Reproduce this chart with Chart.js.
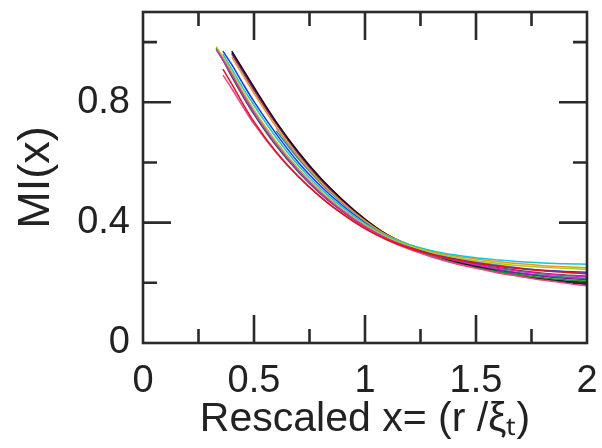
<!DOCTYPE html>
<html>
<head>
<meta charset="utf-8">
<script src="https://cdn.jsdelivr.net/npm/chart.js@4.4.1/dist/chart.umd.min.js"></script>
<style>
  html, body { margin: 0; padding: 0; background: #ffffff; }
  #wrap { width: 602px; height: 448px; }
</style>
</head>
<body>
<div id="wrap"><canvas id="c" width="602" height="448"></canvas></div>
<script>
// ---- data ----
const xGrid = [0.33, 0.36, 0.4, 0.45, 0.5, 0.6, 0.7, 0.8, 0.9, 1.0, 1.1, 1.2, 1.3, 1.4, 1.5, 1.6, 1.7, 1.8, 1.9, 2.0];

const redSeries       = [null, 0.91, 0.86, 0.795, 0.735, 0.635, 0.553, 0.485, 0.428, 0.38, 0.343, 0.315, 0.294, 0.278, 0.265, 0.255, 0.247, 0.24, 0.235, 0.23];
const pinkSeries      = [null, 0.89, 0.845, 0.785, 0.728, 0.632, 0.552, 0.485, 0.428, 0.38, 0.342, 0.311, 0.286, 0.265, 0.248, 0.233, 0.221, 0.209, 0.199, 0.19];
const magentaSeries   = [0.975, 0.94, 0.89, 0.825, 0.765, 0.66, 0.572, 0.498, 0.438, 0.387, 0.347, 0.317, 0.293, 0.275, 0.26, 0.248, 0.238, 0.23, 0.224, 0.22];
const limeSeries      = [0.985, 0.95, 0.9, 0.835, 0.775, 0.668, 0.578, 0.503, 0.442, 0.392, 0.352, 0.323, 0.301, 0.285, 0.273, 0.264, 0.257, 0.252, 0.248, 0.245];
const greenSeries     = [0.98, 0.945, 0.895, 0.832, 0.772, 0.667, 0.578, 0.503, 0.442, 0.39, 0.348, 0.315, 0.288, 0.267, 0.25, 0.237, 0.226, 0.217, 0.21, 0.205];
const cyanSeries      = [null, 0.96, 0.91, 0.848, 0.79, 0.683, 0.59, 0.513, 0.45, 0.397, 0.355, 0.327, 0.307, 0.293, 0.283, 0.276, 0.27, 0.266, 0.263, 0.262];
const orangeSeries    = [null, null, 0.95, 0.89, 0.83, 0.718, 0.62, 0.536, 0.466, 0.406, 0.358, 0.327, 0.305, 0.29, 0.279, 0.27, 0.263, 0.257, 0.253, 0.25];
const blueSeries      = [null, 0.97, 0.925, 0.862, 0.802, 0.695, 0.6, 0.522, 0.456, 0.4, 0.356, 0.324, 0.299, 0.281, 0.267, 0.256, 0.248, 0.242, 0.238, 0.235];
const blackSeries     = [null, null, 0.97, 0.91, 0.85, 0.735, 0.635, 0.548, 0.475, 0.412, 0.36, 0.324, 0.295, 0.272, 0.254, 0.238, 0.225, 0.214, 0.206, 0.2];
const purpleSeries    = [null, null, 0.96, 0.9, 0.84, 0.728, 0.628, 0.542, 0.47, 0.408, 0.358, 0.322, 0.295, 0.273, 0.256, 0.242, 0.231, 0.222, 0.215, 0.21];
const graySeries      = [null, null, null, null, null, 0.715, 0.618, 0.537, 0.468, 0.408, 0.36, 0.326, 0.302, 0.284, 0.27, 0.259, 0.249, 0.241, 0.235, 0.23];
const tealSeries      = [null, null, null, null, null, 0.705, 0.612, 0.532, 0.464, 0.405, 0.356, 0.321, 0.294, 0.273, 0.257, 0.244, 0.233, 0.225, 0.219, 0.215];
const navySeries      = [null, null, 0.965, 0.905, 0.845, 0.732, 0.632, 0.546, 0.473, 0.41, 0.359, 0.322, 0.293, 0.27, 0.251, 0.235, 0.222, 0.211, 0.202, 0.195];
const darkGreenSeries = [0.978, 0.94, 0.885, 0.82, 0.76, 0.655, 0.568, 0.495, 0.436, 0.386, 0.347, 0.318, 0.295, 0.277, 0.262, 0.25, 0.24, 0.232, 0.226, 0.222];

const seriesNames  = ['red', 'pink', 'magenta', 'lime', 'green', 'cyan', 'orange', 'blue', 'black', 'purple', 'gray', 'teal', 'navy', 'darkgreen'];
const seriesValues = [redSeries, pinkSeries, magentaSeries, limeSeries, greenSeries, cyanSeries, orangeSeries, blueSeries, blackSeries, purpleSeries, graySeries, tealSeries, navySeries, darkGreenSeries];
const seriesColors = ['#e8101a', '#ff3c8c', '#e020d0', '#a8d010', '#10a020', '#10c8d8', '#ff9010', '#2030ff', '#101010', '#8020a0', '#8a8a8a', '#109088', '#202868', '#106030'];

const xTickValues = [0, 0.5, 1, 1.5, 2];
const yTickValues = [0, 0.4, 0.8];
const xMajorMarks = [0.5, 1, 1.5];
const xMinorMarks = [0.25, 0.75, 1.25, 1.75];
const yMajorMarks = [0.4, 0.8];
const yMinorMarks = [0.2, 0.6, 1.0];

const xTitle = 'Rescaled x= (r /ξₜ)';
const yTitle = 'MI(x)';

// ---- chart ----
const datasets = seriesValues.map((vals, i) => ({
  label: seriesNames[i],
  data: xGrid.map((x, j) => ({ x: x, y: vals[j] })).filter(p => p.y !== null),
  borderColor: seriesColors[i],
  backgroundColor: seriesColors[i],
  borderWidth: 1.5,
  pointRadius: 0,
  fill: false,
  showLine: true,
  cubicInterpolationMode: 'monotone'
}));

const framePlugin = {
  id: 'frame',
  afterDraw(chart) {
    const { ctx, chartArea: a, scales } = chart;
    const xs = scales.x, ys = scales.y;
    ctx.save();
    ctx.strokeStyle = '#2a2a2a';
    ctx.lineWidth = 2.6;
    ctx.strokeRect(a.left, a.top, a.right - a.left, a.bottom - a.top);
    ctx.beginPath();
    const maj = 28, min = 14;
    xMajorMarks.forEach(v => { const p = xs.getPixelForValue(v);
      ctx.moveTo(p, a.bottom); ctx.lineTo(p, a.bottom - maj);
      ctx.moveTo(p, a.top); ctx.lineTo(p, a.top + maj); });
    xMinorMarks.forEach(v => { const p = xs.getPixelForValue(v);
      ctx.moveTo(p, a.bottom); ctx.lineTo(p, a.bottom - min);
      ctx.moveTo(p, a.top); ctx.lineTo(p, a.top + min); });
    yMajorMarks.forEach(v => { const p = ys.getPixelForValue(v);
      ctx.moveTo(a.left, p); ctx.lineTo(a.left + maj, p);
      ctx.moveTo(a.right, p); ctx.lineTo(a.right - maj, p); });
    yMinorMarks.forEach(v => { const p = ys.getPixelForValue(v);
      ctx.moveTo(a.left, p); ctx.lineTo(a.left + min, p);
      ctx.moveTo(a.right, p); ctx.lineTo(a.right - min, p); });
    ctx.stroke();
    ctx.restore();
  }
};

const FONT = "'Liberation Sans', Arial, Helvetica, sans-serif";

new Chart(document.getElementById('c'), {
  type: 'line',
  data: { datasets: datasets },
  plugins: [framePlugin],
  options: {
    responsive: false,
    animation: false,
    devicePixelRatio: 1,
    layout: { padding: { left: 0, right: 15, top: 12, bottom: 0 } },
    plugins: { legend: { display: false }, tooltip: { enabled: false } },
    scales: {
      x: {
        type: 'linear',
        min: 0, max: 2,
        afterBuildTicks: s => { s.ticks = xTickValues.map(v => ({ value: v })); },
        afterFit: s => { s.height = 105; s.paddingLeft = 0; s.paddingRight = 0; },
        grid: { display: false, drawTicks: false },
        border: { display: false },
        ticks: { padding: 16, maxRotation: 0, color: '#222', font: { family: FONT, size: 38 },
                 callback: v => String(v) },
        title: { display: true, text: xTitle, color: '#222', font: { family: FONT, size: 41 },
                 padding: { top: 0, bottom: 4 } }
      },
      y: {
        type: 'linear',
        min: 0, max: 1.1,
        afterBuildTicks: s => { s.ticks = yTickValues.map(v => ({ value: v })); },
        afterFit: s => { s.width = 143; s.paddingTop = 0; s.paddingBottom = 0; },
        grid: { display: false, drawTicks: false },
        border: { display: false },
        ticks: { padding: 13, color: '#222', font: { family: FONT, size: 38 },
                 callback: v => String(v) },
        title: { display: true, text: yTitle, color: '#222', font: { family: FONT, size: 45 },
                 padding: { top: 10, bottom: 0 } }
      }
    }
  }
});
</script>
</body>
</html>
